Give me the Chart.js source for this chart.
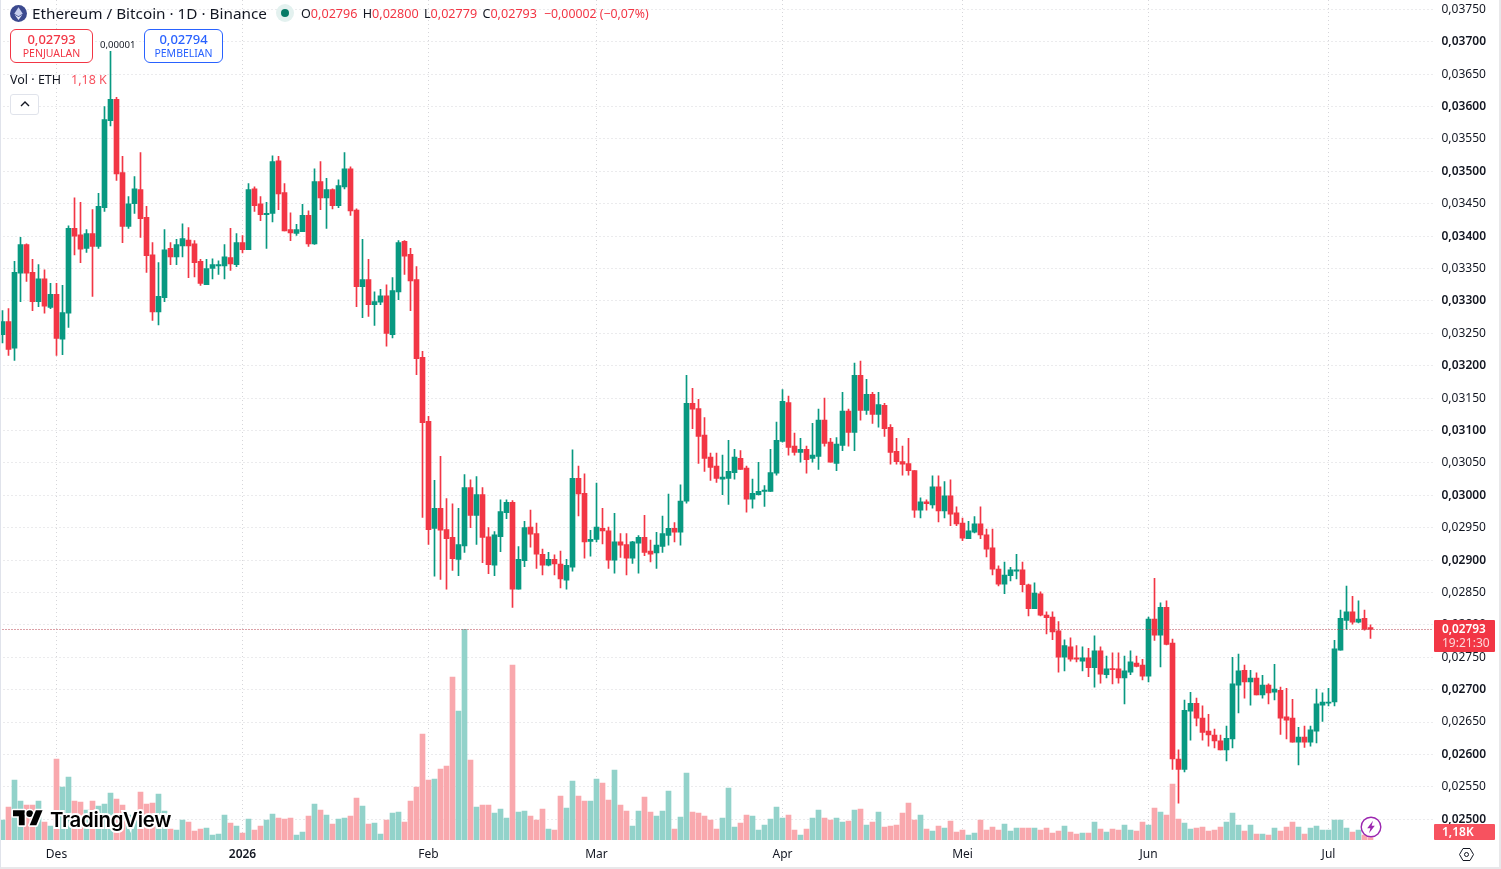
<!DOCTYPE html>
<html>
<head>
<meta charset="utf-8">
<title>ETH/BTC</title>
<script src="https://cdn.jsdelivr.net/npm/chart.js@4"></script>
<style>
html, body { margin: 0; padding: 0; background: #fff; overflow: hidden; }
body { width: 1501px; height: 869px; position: relative; font-family: "Noto Sans", sans-serif; color: #131722; }
#myChart { position: absolute; left: -1px; top: 0; }
#frame { position: absolute; left: 0; top: 0; height: 867px; border-left: 1px solid #e0e3eb; border-right: 2px solid #e8e8ea; border-bottom: 2px solid #e8e8ea; box-sizing: content-box; width: 1498px; pointer-events: none; }
.t { position: absolute; white-space: nowrap; line-height: 1; }
.btn { position: absolute; top: 29px; height: 34px; box-sizing: border-box; border-radius: 6px; border: 1px solid; background: #fff; text-align: center; }
.btn b { display: block; font-weight: 500; font-size: 13px; line-height: 14px; margin-top: 2px; }
.btn span { display: block; font-size: 10.5px; line-height: 14px; }
.tag { position: absolute; left: 1434px; width: 61px; box-sizing: border-box; padding-left: 8px; color: #fff; border-radius: 1px; }
</style>
</head>
<body>
<canvas id="myChart" width="1502" height="869"></canvas>
<div id="frame"></div>

<svg style="position:absolute;left:10px;top:5px" width="17" height="17" viewBox="0 0 16 16">
  <circle cx="8" cy="8" r="8" fill="#3c4a8f"/>
  <path d="M8 2 L12 8.2 L8 10.6 L4 8.2 Z" fill="#c8cfee"/>
  <path d="M8 11.4 L11.6 9.2 L8 14 L4.4 9.2 Z" fill="#e4e7f6"/>
</svg>
<div class="t" style="left:32px;top:6px;font-size:15.3px">Ethereum / Bitcoin · 1D · Binance</div>
<svg style="position:absolute;left:276px;top:4px" width="18" height="18" viewBox="0 0 18 18">
  <circle cx="9" cy="9" r="9" fill="#e3f1ef"/>
  <circle cx="9" cy="9" r="4" fill="#067a66"/>
</svg>
<div class="t" style="left:301px;top:8px;font-size:12.6px;word-spacing:2px;color:#f23645">
  <span style="color:#131722">O</span>0,02796 <span style="color:#131722">H</span>0,02800 <span style="color:#131722">L</span>0,02779 <span style="color:#131722">C</span>0,02793
</div>
<div class="t" style="left:544px;top:8px;font-size:12.3px;color:#f23645">−0,00002 (−0,07%)</div>

<div class="btn" style="left:10px;width:83px;border-color:#f23645;color:#f23645"><b>0,02793</b><span>PENJUALAN</span></div>
<div class="btn" style="left:144px;width:79px;border-color:#2962ff;color:#2962ff"><b>0,02794</b><span>PEMBELIAN</span></div>
<div class="t" style="left:100px;top:40px;font-size:9.6px;background:#fff;padding:0 0 1px 0">0,00001</div>
<div class="t" style="left:10px;top:74px;font-size:12.5px">Vol · ETH</div>
<div class="t" style="left:71px;top:74px;font-size:12.5px;color:#f7525f">1,18 K</div>
<div style="position:absolute;left:10px;top:94px;width:29px;height:21px;box-sizing:border-box;border:1px solid #e0e3eb;border-radius:3px;background:#fff">
  <svg style="position:absolute;left:8px;top:5px" width="12" height="8" viewBox="0 0 12 8"><path d="M2 6 L6 2 L10 6" fill="none" stroke="#131722" stroke-width="1.4"/></svg>
</div>

<svg style="position:absolute;left:13px;top:807px;overflow:visible" width="30" height="23.3" viewBox="0 0 36 28">
  <g fill="#000" stroke="#fff" stroke-width="4" paint-order="stroke" stroke-linejoin="round">
    <path d="M14 22H7V11H0V4h14v18z"/>
    <circle cx="20" cy="8" r="4"/>
    <path d="M28 22h-8l7.5-18h8L28 22z"/>
  </g>
</svg>
<div class="t" style="left:50px;top:810px;font-family:Inter,sans-serif;font-size:20.4px;font-weight:600;letter-spacing:-0.3px;-webkit-text-stroke:4px #fff;paint-order:stroke fill;color:#000">TradingView</div>

<svg style="position:absolute;left:1360px;top:816px" width="22" height="22" viewBox="0 0 22 22">
  <circle cx="11" cy="11" r="9.8" fill="#fff" stroke="#9c27b0" stroke-width="1.4"/>
  <path d="M13 4.8 L7.2 12.2 H10.4 L9 17.2 L14.8 9.8 H11.6 Z" fill="#9c27b0"/>
</svg>

<div class="tag" style="top:620px;height:32px;background:#f23645">
  <div style="font-size:11.8px;line-height:15px;font-weight:600;margin-top:1px">0,02793</div>
  <div style="font-size:12px;line-height:14px;color:#fcd7da">19:21:30</div>
</div>
<div class="tag" style="top:824px;height:16px;background:#f7525f;font-size:12px;line-height:16px;font-weight:600">1,18K</div>

<svg style="position:absolute;left:1458px;top:846px" width="17" height="17" viewBox="0 0 17 17">
  <path d="M1.5 8.5 L5 2.5 H12 L15.5 8.5 L12 14.5 H5 Z" fill="none" stroke="#131722" stroke-width="1"/>
  <circle cx="8.5" cy="8.5" r="2" fill="none" stroke="#131722" stroke-width="1"/>
</svg>

<script>
// Daily ETH/BTC candles from 22 Nov 2025
const opens = [
    0.03248,0.03268,0.03227,0.03343,0.03387,0.03344,0.03299,0.03334,0.03290,0.03310,
    0.03241,0.03281,0.03412,0.03402,0.03381,0.03404,0.03384,0.03444,0.03578,0.03611,
    0.03498,0.03415,0.03450,0.03472,0.03429,0.03371,0.03283,0.03305,0.03381,0.03368,
    0.03385,0.03394,0.03388,0.03361,0.03325,0.03350,0.03354,0.03354,0.03367,0.03356,
    0.03390,0.03379,0.03473,0.03450,0.03433,0.03435,0.03516,0.03467,0.03410,0.03404,
    0.03407,0.03432,0.03388,0.03484,0.03459,0.03472,0.03447,0.03476,0.03504,0.03440,
    0.03322,0.03333,0.03294,0.03298,0.03308,0.03248,0.03314,0.03392,0.03372,0.03333,
    0.03213,0.03114,0.02949,0.02980,0.02947,0.02935,0.02901,0.02922,0.03012,0.02969,
    0.03001,0.02936,0.02892,0.02936,0.02973,0.02989,0.02855,0.02899,0.02951,0.02941,
    0.02909,0.02892,0.02901,0.02894,0.02869,0.02889,0.03026,0.03003,0.02929,0.02932,
    0.02949,0.02945,0.02900,0.02928,0.02924,0.02903,0.02926,0.02935,0.02914,0.02911,
    0.02921,0.02938,0.02949,0.02943,0.02991,0.03142,0.03134,0.03093,0.03059,0.03045,
    0.03025,0.03026,0.03035,0.03057,0.03042,0.02994,0.03001,0.03006,0.03006,0.03034,
    0.03083,0.03143,0.03076,0.03066,0.03071,0.03057,0.03060,0.03116,0.03082,0.03049,
    0.03077,0.03130,0.03097,0.03185,0.03131,0.03156,0.03125,0.03139,0.03105,0.03068,
    0.03052,0.03049,0.03038,0.02977,0.02990,0.02985,0.03013,0.02976,0.02999,0.02973,
    0.02957,0.02933,0.02943,0.02956,0.02939,0.02919,0.02886,0.02863,0.02876,0.02883,
    0.02885,0.02862,0.02825,0.02848,0.02815,0.02812,0.02791,0.02750,0.02766,0.02749,
    0.02744,0.02749,0.02734,0.02760,0.02723,0.02732,0.02732,0.02718,0.02727,0.02741,
    0.02738,0.02721,0.02809,0.02784,0.02827,0.02772,0.02593,0.02577,0.02667,0.02679,
    0.02656,0.02636,0.02630,0.02621,0.02607,0.02624,0.02707,0.02730,0.02712,0.02718,
    0.02692,0.02707,0.02696,0.02699,0.02658,0.02656,0.02619,0.02627,0.02619,0.02636,
    0.02676,0.02679,0.02681,0.02761,0.02807,0.02820,0.02804,0.02810,0.02796
];
const closes = [
    0.03268,0.03225,0.03344,0.03387,0.03343,0.03299,0.03334,0.03292,0.03310,0.03242,
    0.03282,0.03412,0.03400,0.03380,0.03404,0.03384,0.03446,0.03580,0.03611,0.03496,
    0.03415,0.03450,0.03473,0.03427,0.03370,0.03283,0.03307,0.03379,0.03368,0.03387,
    0.03396,0.03385,0.03359,0.03327,0.03350,0.03356,0.03356,0.03368,0.03357,0.03390,
    0.03379,0.03472,0.03447,0.03433,0.03435,0.03515,0.03465,0.03408,0.03405,0.03410,
    0.03432,0.03388,0.03484,0.03459,0.03472,0.03447,0.03478,0.03504,0.03439,0.03322,
    0.03333,0.03294,0.03299,0.03308,0.03250,0.03316,0.03390,0.03369,0.03331,0.03211,
    0.03112,0.02947,0.02980,0.02946,0.02933,0.02902,0.02924,0.03012,0.02969,0.03001,
    0.02935,0.02893,0.02939,0.02975,0.02989,0.02855,0.02901,0.02950,0.02940,0.02909,
    0.02892,0.02901,0.02894,0.02871,0.02892,0.03026,0.03002,0.02928,0.02932,0.02951,
    0.02945,0.02900,0.02928,0.02923,0.02903,0.02928,0.02935,0.02912,0.02909,0.02923,
    0.02941,0.02949,0.02943,0.02991,0.03142,0.03133,0.03091,0.03057,0.03043,0.03026,
    0.03028,0.03037,0.03059,0.03040,0.02994,0.03003,0.03006,0.03008,0.03035,0.03085,
    0.03145,0.03074,0.03066,0.03071,0.03055,0.03062,0.03116,0.03080,0.03051,0.03079,
    0.03130,0.03097,0.03185,0.03131,0.03156,0.03125,0.03140,0.03103,0.03066,0.03052,
    0.03048,0.03038,0.02977,0.02990,0.02987,0.03013,0.02976,0.02999,0.02971,0.02956,
    0.02934,0.02945,0.02956,0.02939,0.02917,0.02886,0.02863,0.02877,0.02885,0.02885,
    0.02862,0.02825,0.02849,0.02815,0.02811,0.02789,0.02750,0.02768,0.02747,0.02747,
    0.02749,0.02734,0.02760,0.02724,0.02732,0.02731,0.02718,0.02729,0.02743,0.02736,
    0.02721,0.02809,0.02784,0.02827,0.02770,0.02593,0.02577,0.02668,0.02679,0.02656,
    0.02634,0.02630,0.02621,0.02607,0.02625,0.02709,0.02729,0.02712,0.02718,0.02692,
    0.02707,0.02695,0.02701,0.02656,0.02653,0.02619,0.02627,0.02619,0.02638,0.02678,
    0.02681,0.02681,0.02763,0.02810,0.02820,0.02804,0.02809,0.02793,0.02793
];
const highs = [
    0.03285,0.03288,0.03361,0.03398,0.03388,0.03364,0.03356,0.03348,0.03327,0.03327,
    0.03324,0.03416,0.03459,0.03452,0.03410,0.03441,0.03466,0.03600,0.03689,0.03614,
    0.03523,0.03461,0.03492,0.03529,0.03446,0.03390,0.03359,0.03410,0.03390,0.03395,
    0.03419,0.03413,0.03393,0.03364,0.03364,0.03365,0.03362,0.03387,0.03412,0.03404,
    0.03401,0.03481,0.03476,0.03461,0.03452,0.03524,0.03523,0.03481,0.03436,0.03418,
    0.03449,0.03439,0.03504,0.03515,0.03489,0.03473,0.03487,0.03529,0.03507,0.03442,
    0.03395,0.03364,0.03314,0.03318,0.03325,0.03336,0.03393,0.03393,0.03381,0.03353,
    0.03222,0.03122,0.03023,0.03060,0.02995,0.02987,0.02980,0.03032,0.03024,0.03029,
    0.03012,0.02950,0.02944,0.02993,0.02993,0.02992,0.02921,0.02960,0.02977,0.02957,
    0.02917,0.02912,0.02908,0.02914,0.02901,0.03070,0.03045,0.03033,0.02946,0.03019,
    0.02980,0.02951,0.02972,0.02941,0.02941,0.02929,0.02938,0.02969,0.02931,0.02943,
    0.02968,0.03002,0.02958,0.03016,0.03185,0.03165,0.03148,0.03120,0.03065,0.03065,
    0.03062,0.03085,0.03071,0.03069,0.03045,0.03025,0.03051,0.03015,0.03071,0.03113,
    0.03163,0.03153,0.03096,0.03088,0.03076,0.03111,0.03133,0.03150,0.03088,0.03089,
    0.03159,0.03133,0.03204,0.03207,0.03179,0.03159,0.03159,0.03142,0.03109,0.03088,
    0.03076,0.03088,0.03038,0.02996,0.02993,0.03030,0.03030,0.03021,0.03024,0.02982,
    0.02965,0.02960,0.02967,0.02982,0.02948,0.02948,0.02891,0.02897,0.02889,0.02909,
    0.02897,0.02863,0.02865,0.02851,0.02820,0.02820,0.02805,0.02777,0.02780,0.02768,
    0.02766,0.02764,0.02783,0.02766,0.02752,0.02757,0.02757,0.02752,0.02760,0.02752,
    0.02747,0.02812,0.02872,0.02834,0.02837,0.02778,0.02607,0.02684,0.02696,0.02687,
    0.02675,0.02662,0.02639,0.02630,0.02644,0.02750,0.02755,0.02738,0.02730,0.02726,
    0.02722,0.02709,0.02739,0.02704,0.02702,0.02685,0.02642,0.02644,0.02644,0.02701,
    0.02695,0.02702,0.02776,0.02823,0.02860,0.02844,0.02837,0.02823,0.02800
];
const lows = [
    0.03235,0.03216,0.03208,0.03299,0.03330,0.03285,0.03291,0.03281,0.03288,0.03216,
    0.03217,0.03259,0.03371,0.03359,0.03375,0.03307,0.03381,0.03438,0.03570,0.03486,
    0.03390,0.03412,0.03435,0.03398,0.03344,0.03270,0.03263,0.03299,0.03356,0.03356,
    0.03368,0.03336,0.03337,0.03324,0.03325,0.03334,0.03341,0.03334,0.03347,0.03353,
    0.03374,0.03379,0.03438,0.03424,0.03381,0.03422,0.03441,0.03408,0.03393,0.03401,
    0.03407,0.03384,0.03387,0.03441,0.03412,0.03442,0.03444,0.03473,0.03432,0.03291,
    0.03274,0.03276,0.03262,0.03294,0.03230,0.03243,0.03302,0.03341,0.03285,0.03186,
    0.02966,0.02924,0.02875,0.02870,0.02855,0.02884,0.02876,0.02912,0.02950,0.02924,
    0.02896,0.02879,0.02876,0.02913,0.02964,0.02827,0.02855,0.02890,0.02920,0.02887,
    0.02877,0.02891,0.02877,0.02857,0.02855,0.02883,0.02968,0.02903,0.02906,0.02928,
    0.02925,0.02887,0.02880,0.02904,0.02877,0.02895,0.02880,0.02907,0.02897,0.02887,
    0.02912,0.02923,0.02928,0.02923,0.02988,0.03103,0.03049,0.03037,0.03023,0.03020,
    0.03001,0.02986,0.03025,0.03040,0.02974,0.02980,0.03000,0.02983,0.03006,0.03031,
    0.03082,0.03062,0.03062,0.03051,0.03034,0.03051,0.03040,0.03076,0.03051,0.03038,
    0.03069,0.03076,0.03069,0.03116,0.03125,0.03111,0.03105,0.03091,0.03048,0.03048,
    0.03031,0.03031,0.02966,0.02965,0.02977,0.02980,0.02959,0.02965,0.02953,0.02953,
    0.02930,0.02933,0.02942,0.02933,0.02905,0.02877,0.02860,0.02848,0.02868,0.02871,
    0.02851,0.02814,0.02825,0.02814,0.02786,0.02777,0.02727,0.02729,0.02744,0.02743,
    0.02729,0.02720,0.02704,0.02710,0.02718,0.02709,0.02710,0.02678,0.02723,0.02735,
    0.02715,0.02712,0.02776,0.02735,0.02769,0.02577,0.02525,0.02573,0.02622,0.02644,
    0.02622,0.02613,0.02610,0.02607,0.02590,0.02610,0.02664,0.02687,0.02676,0.02692,
    0.02687,0.02678,0.02684,0.02631,0.02624,0.02619,0.02584,0.02611,0.02613,0.02618,
    0.02651,0.02675,0.02675,0.02761,0.02793,0.02801,0.02803,0.02792,0.02779
];
// Volume in thousands of ETH
const volumes = [
    10,16.5,30,19.5,17.5,17.5,19.5,9,7,40.5,
    26.5,31.5,19.5,19,15,19.5,17,18,23.5,20.5,
    17.5,12.5,10,24,18,18.5,23,14.5,5.5,5,
    10,9,4.5,5.5,6,2.5,3,12.5,8.5,7,
    3.5,10.5,5,7,10,13,11,10.5,11,2.5,
    4,12,18,15,12.5,8,10.5,11,12,21,
    17,8,8.5,3,10,13.5,14,9,19.5,26.5,
    53,30,30.5,35.5,37,81.5,64.5,105.3,40,16.5,
    17.5,17.5,13.5,15.5,11,87.5,14,14.5,12,10,
    15.5,5.5,5,22,16,29.5,22,19.5,19.5,30.5,
    28.5,20,35,17.5,14.5,7,14.5,21.5,14,12,
    14.5,24.5,5.5,11.5,33.5,14,13.5,12,10,5.5,
    11,26,6.5,8.5,12.5,12,5,7.5,10.5,16.5,
    11,12.5,5,2.5,5.5,11,15,11,10,11,
    9,9.5,15,15.5,7.5,9,14,6.5,7,7.5,
    13.5,18.5,10,12.5,5.5,4.5,7,6,9.5,4,
    5,2.5,3.5,10,5,6.5,5,8,4.5,6,
    6,6,6,5,6,3.5,4.5,7,4,3,
    3.5,3.5,9,5.5,4,5.5,5,7.5,5,4.5,
    9,7.5,16,14,12.5,28,10.5,8.5,5.5,6,
    6.5,4.5,5,6.5,9,13.5,7.5,4.5,7.5,3,
    3,2.5,6,4.5,6.5,9,6.5,3,6,7,
    5,5,10,10,6,4,5,2.5,1.18
];

const priceTicks = [
    0.0375,0.037,0.0365,0.036,0.0355,0.035,0.0345,0.034,0.0335,0.033,0.0325,0.032,0.0315,
    0.031,0.0305,0.03,0.0295,0.029,0.0285,0.028,0.0275,0.027,0.0265,0.026,0.0255,0.025
];
const monthLabels = ['Des', '2026', 'Feb', 'Mar', 'Apr', 'Mei', 'Jun', 'Jul'];
const monthIndex = [9, 40, 71, 99, 130, 160, 191, 221];
const lastPrice = 0.02793;

// ten empty days stay free on the right of the last candle
const days = [];
for (let i = 0; i < opens.length + 10; i++) {
    days.push(new Date(Date.UTC(2025, 10, 22 + i)).toISOString().slice(0, 10));
}

const up = (i) => closes[i] >= opens[i];
const candleColor = (ctx) => up(ctx.dataIndex) ? '#089981' : '#f23645';
const volumeColor = (ctx) => up(ctx.dataIndex) ? '#92d2ca' : '#f9a8ad';
const formatPrice = (v) => v.toFixed(5).replace('.', ',');
const isWhole = (v) => Math.abs(v * 1000 - Math.round(v * 1000)) < 1e-6;

const gridColor = '#d6d6da';
const axisFont = '"Noto Sans", sans-serif';

// dotted line at the last traded price
const lastPriceLine = {
    id: 'lastPriceLine',
    afterDatasetsDraw(chart) {
        const { ctx, chartArea } = chart;
        const y = Math.floor(chart.scales.y.getPixelForValue(lastPrice)) + 0.5;
        ctx.save();
        ctx.strokeStyle = '#b8404e';
        ctx.lineWidth = 1;
        ctx.setLineDash([1, 2]);
        ctx.beginPath();
        ctx.moveTo(chartArea.left, y);
        ctx.lineTo(chartArea.right, y);
        ctx.stroke();
        ctx.restore();
    }
};

const config = {
    type: 'bar',
    data: {
        labels: days,
        datasets: [
            {
                label: 'Body',
                yAxisID: 'y',
                data: opens.map((o, i) => [o, closes[i]]),
                backgroundColor: candleColor,
                barThickness: 5,
                minBarLength: 1,
                grouped: false,
                order: 1
            },
            {
                label: 'Wick',
                yAxisID: 'y',
                data: lows.map((l, i) => [l, highs[i]]),
                backgroundColor: candleColor,
                barThickness: 1,
                grouped: false,
                order: 2
            },
            {
                label: 'Volume',
                yAxisID: 'vol',
                data: volumes,
                backgroundColor: volumeColor,
                barThickness: 5,
                grouped: false,
                order: 3
            }
        ]
    },
    options: {
        responsive: false,
        animation: false,
        events: [],
        layout: { autoPadding: false, padding: { left: 0.5, right: 0, top: 0, bottom: 0 } },
        plugins: { legend: { display: false }, tooltip: { enabled: false } },
        scales: {
            x: {
                offset: true,
                afterBuildTicks: (axis) => { axis.ticks = monthIndex.map((i) => ({ value: i })); },
                afterFit: (axis) => { axis.height = 29; },
                grid: { color: gridColor, offset: false, drawTicks: false },
                border: { display: false, dash: [1, 3] },
                ticks: {
                    autoSkip: false,
                    maxRotation: 0,
                    padding: 7,
                    color: '#131722',
                    font: (ctx) => ({
                        family: axisFont,
                        size: 12,
                        weight: ctx.tick && ctx.tick.value === monthIndex[1] ? '600' : '400'
                    }),
                    callback: (v) => monthLabels[monthIndex.indexOf(v)]
                }
            },
            y: {
                position: 'right',
                min: 0.02468,
                max: 0.037644,
                afterBuildTicks: (axis) => { axis.ticks = priceTicks.map((v) => ({ value: v })); },
                // the chart area runs right up to the top of the canvas
                afterFit: (axis) => {
                    axis.width = 67.5;
                    axis.paddingTop = 0;
                    axis.paddingBottom = 0;
                },
                grid: { color: gridColor, drawTicks: false },
                border: { display: false, dash: [1, 3] },
                ticks: {
                    padding: 8,
                    color: '#131722',
                    font: (ctx) => ({
                        family: axisFont,
                        size: 12,
                        weight: ctx.tick && isWhole(ctx.tick.value) ? '600' : '400'
                    }),
                    callback: (v) => formatPrice(v)
                }
            },
            vol: {
                display: false,
                min: 0,
                max: 420
            }
        }
    },
    plugins: [lastPriceLine]
};

new Chart(document.getElementById('myChart'), config);
</script>
</body>
</html>
